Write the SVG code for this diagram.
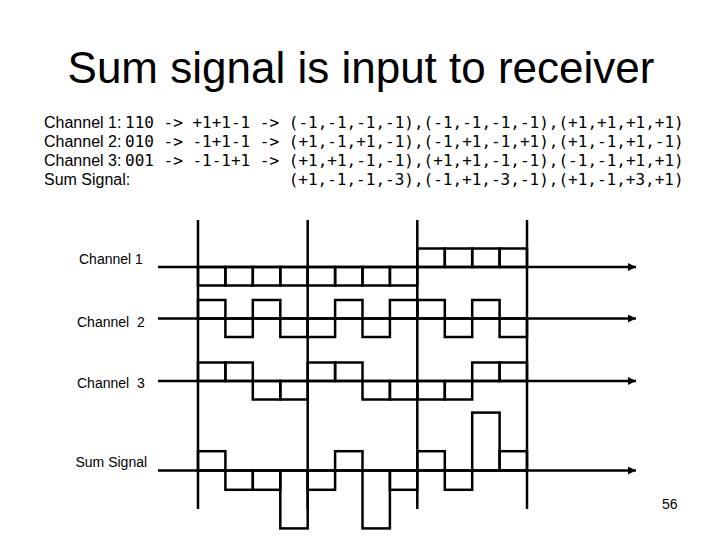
<svg xmlns="http://www.w3.org/2000/svg" width="720" height="540" viewBox="0 0 720 540">
<style>
.sans{font-family:"Liberation Sans",Arial,sans-serif;fill:#000}
.mono{font-family:"DejaVu Sans Mono","Liberation Mono",monospace;font-size:16px;fill:#000}
.hdr{font-size:16px}
.lbl{font-size:14px}
.ln{stroke:#000;stroke-width:2.5;fill:none}
.chip{stroke:#000;stroke-width:2.5;fill:none}
</style>
<defs>
<marker id="arr" viewBox="0 0 10 10" refX="10" refY="5" markerWidth="3.2" markerHeight="3.2" orient="auto" markerUnits="strokeWidth">
<path d="M0,0 L10,5 L0,10 Z" fill="#000"/>
</marker>
</defs>
<rect x="0" y="0" width="720" height="540" fill="#fff"/>

<g id="title">
<text class="sans" x="361" y="83" font-size="44" text-anchor="middle">Sum signal is input to receiver</text>
</g>

<g id="header">
<text class="sans hdr" x="44" y="128">Channel 1:</text>
<text class="mono" x="125" y="128">110 -&gt; +1+1-1 -&gt; (-1,-1,-1,-1),(-1,-1,-1,-1),(+1,+1,+1,+1)</text>
<text class="sans hdr" x="44" y="147">Channel 2:</text>
<text class="mono" x="125" y="147">010 -&gt; -1+1-1 -&gt; (+1,-1,+1,-1),(-1,+1,-1,+1),(+1,-1,+1,-1)</text>
<text class="sans hdr" x="44" y="166">Channel 3:</text>
<text class="mono" x="125" y="166">001 -&gt; -1-1+1 -&gt; (+1,+1,-1,-1),(+1,+1,-1,-1),(-1,-1,+1,+1)</text>
<text class="sans hdr" x="44" y="185">Sum Signal:</text>
<text class="mono" x="288.7" y="185">(+1,-1,-1,-3),(-1,+1,-3,-1),(+1,-1,+3,+1)</text>
</g>

<g id="labels">
<text class="sans lbl" x="79" y="264" xml:space="preserve" style="white-space:pre">Channel 1</text>
<text class="sans lbl" x="77" y="327" xml:space="preserve" style="white-space:pre">Channel  2</text>
<text class="sans lbl" x="77" y="388" xml:space="preserve" style="white-space:pre">Channel  3</text>
<text class="sans lbl" x="75.5" y="467" xml:space="preserve" style="white-space:pre">Sum Signal</text>
<text class="sans lbl" x="662" y="509">56</text>
</g>

<g id="connectors">
<line class="ln" x1="158" y1="267" x2="636" y2="267" marker-end="url(#arr)"/>
<line class="ln" x1="158" y1="318.5" x2="636" y2="318.5" marker-end="url(#arr)"/>
<line class="ln" x1="158" y1="381" x2="636" y2="381" marker-end="url(#arr)"/>
<line class="ln" x1="158" y1="470.5" x2="636" y2="470.5" marker-end="url(#arr)"/>
<line class="ln" x1="198" y1="220" x2="198" y2="509"/>
<line class="ln" x1="307.7" y1="220" x2="307.7" y2="509"/>
<line class="ln" x1="417.3" y1="220" x2="417.3" y2="509"/>
<line class="ln" x1="527" y1="220" x2="527" y2="509"/>
</g>

<g id="channel1">
<rect class="chip" x="198" y="267" width="27.4" height="18.5"/>
<rect class="chip" x="225.4" y="267" width="27.4" height="18.5"/>
<rect class="chip" x="252.8" y="267" width="27.5" height="18.5"/>
<rect class="chip" x="280.3" y="267" width="27.4" height="18.5"/>
<rect class="chip" x="307.7" y="267" width="27.4" height="18.5"/>
<rect class="chip" x="335.1" y="267" width="27.4" height="18.5"/>
<rect class="chip" x="362.5" y="267" width="27.4" height="18.5"/>
<rect class="chip" x="389.9" y="267" width="27.4" height="18.5"/>
<rect class="chip" x="417.3" y="248.5" width="27.5" height="18.5"/>
<rect class="chip" x="444.8" y="248.5" width="27.4" height="18.5"/>
<rect class="chip" x="472.2" y="248.5" width="27.4" height="18.5"/>
<rect class="chip" x="499.6" y="248.5" width="27.4" height="18.5"/>
</g>

<g id="channel2">
<rect class="chip" x="198" y="300" width="27.4" height="18.5"/>
<rect class="chip" x="225.4" y="318.5" width="27.4" height="18.5"/>
<rect class="chip" x="252.8" y="300" width="27.5" height="18.5"/>
<rect class="chip" x="280.3" y="318.5" width="27.4" height="18.5"/>
<rect class="chip" x="307.7" y="318.5" width="27.4" height="18.5"/>
<rect class="chip" x="335.1" y="300" width="27.4" height="18.5"/>
<rect class="chip" x="362.5" y="318.5" width="27.4" height="18.5"/>
<rect class="chip" x="389.9" y="300" width="27.4" height="18.5"/>
<rect class="chip" x="417.3" y="300" width="27.5" height="18.5"/>
<rect class="chip" x="444.8" y="318.5" width="27.4" height="18.5"/>
<rect class="chip" x="472.2" y="300" width="27.4" height="18.5"/>
<rect class="chip" x="499.6" y="318.5" width="27.4" height="18.5"/>
</g>

<g id="channel3">
<rect class="chip" x="198" y="362.5" width="27.4" height="18.5"/>
<rect class="chip" x="225.4" y="362.5" width="27.4" height="18.5"/>
<rect class="chip" x="252.8" y="381" width="27.5" height="18.5"/>
<rect class="chip" x="280.3" y="381" width="27.4" height="18.5"/>
<rect class="chip" x="307.7" y="362.5" width="27.4" height="18.5"/>
<rect class="chip" x="335.1" y="362.5" width="27.4" height="18.5"/>
<rect class="chip" x="362.5" y="381" width="27.4" height="18.5"/>
<rect class="chip" x="389.9" y="381" width="27.4" height="18.5"/>
<rect class="chip" x="417.3" y="381" width="27.5" height="18.5"/>
<rect class="chip" x="444.8" y="381" width="27.4" height="18.5"/>
<rect class="chip" x="472.2" y="362.5" width="27.4" height="18.5"/>
<rect class="chip" x="499.6" y="362.5" width="27.4" height="18.5"/>
</g>

<g id="sum-signal">
<rect class="chip" x="198" y="451.2" width="27.4" height="19.3"/>
<rect class="chip" x="225.4" y="470.5" width="27.4" height="19.3"/>
<rect class="chip" x="252.8" y="470.5" width="27.5" height="19.3"/>
<rect class="chip" x="280.3" y="470.5" width="27.4" height="57.9"/>
<rect class="chip" x="307.7" y="470.5" width="27.4" height="19.3"/>
<rect class="chip" x="335.1" y="451.2" width="27.4" height="19.3"/>
<rect class="chip" x="362.5" y="470.5" width="27.4" height="57.9"/>
<rect class="chip" x="389.9" y="470.5" width="27.4" height="19.3"/>
<rect class="chip" x="417.3" y="451.2" width="27.5" height="19.3"/>
<rect class="chip" x="444.8" y="470.5" width="27.4" height="19.3"/>
<rect class="chip" x="472.2" y="412.6" width="27.4" height="57.9"/>
<rect class="chip" x="499.6" y="451.2" width="27.4" height="19.3"/>
</g>
</svg>
